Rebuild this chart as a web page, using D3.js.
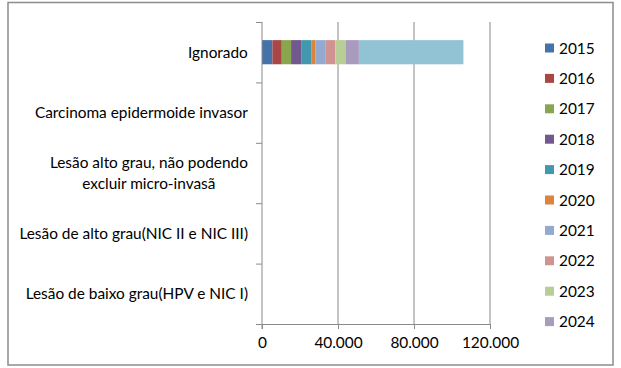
<!DOCTYPE html>
<html><head><meta charset="utf-8">
<script src="https://cdn.jsdelivr.net/npm/d3@7"></script>
<style>body{margin:0;background:#fff}svg{display:block}text{font-family:Lato,"Open Sans",sans-serif;fill:#000}</style>
</head><body><svg id="c" width="621" height="368"></svg>
<script>
const categories = ["Ignorado","Carcinoma epidermoide invasor","Lesão alto grau, não podendo excluir micro-invasã","Lesão de alto grau(NIC II e NIC III)","Lesão de baixo grau(HPV e NIC I)"];
const categoryLines = [["Ignorado"],["Carcinoma epidermoide invasor"],["Lesão alto grau, não podendo","excluir micro-invasã"],["Lesão de alto grau(NIC II e NIC III)"],["Lesão de baixo grau(HPV e NIC I)"]];
const seriesNames = ["2015","2016","2017","2018","2019","2020","2021","2022","2023","2024","Total"];
const seriesColors = ["#4672AA","#AA4643","#89A54E","#71588F","#4198AF","#DB843D","#93A9CF","#D19392","#B9CD96","#A99BBD","#92C3D4"];
const values = [
  [5500,0,0,0,0],
  [4900,0,0,0,0],
  [4900,0,0,0,0],
  [5300,0,0,0,0],
  [5300,0,0,0,0],
  [2100,0,0,0,0],
  [5300,0,0,0,0],
  [5300,0,0,0,0],
  [5600,0,0,0,0],
  [6800,0,0,0,0],
  [55000,0,0,0,0]
];
const xTicks = [0,40000,80000,120000];
const legendShown = 10;

const svg = d3.select("#c");
svg.append("rect").attr("x",8).attr("y",2.5).attr("width",605).attr("height",362.5)
  .attr("fill","#fff").attr("stroke","#8c8c8c").attr("stroke-width",1.5);

const L=262, R=490, T=22, B=324;
const FS=15.4;
const x = d3.scaleLinear().domain([0,120000]).range([L,R]);
const y = d3.scaleBand().domain(categories).range([T,B]).paddingInner(0.6).paddingOuter(0.3);
const yb = d3.scaleBand().domain(categories).range([T,B]);

// gridlines
svg.append("g").selectAll("line").data(xTicks.slice(1)).join("line")
  .attr("x1",d=>x(d)).attr("x2",d=>x(d)).attr("y1",T).attr("y2",B)
  .attr("stroke","#8a8a8a").attr("stroke-width",1);

// stacked data
const rows = categories.map((c,i)=>{const o={cat:c}; seriesNames.forEach((s,j)=>o[s]=values[j][i]); return o;});
const stack = d3.stack().keys(seriesNames)(rows);
svg.append("g").selectAll("g").data(stack).join("g").attr("fill",(d,i)=>seriesColors[i])
  .selectAll("rect").data(d=>d).join("rect")
  .attr("x",d=>x(d[0])).attr("width",d=>x(d[1])-x(d[0]))
  .attr("y",d=>y(d.data.cat)).attr("height",y.bandwidth());

// x axis
const xa = svg.append("g").attr("transform",`translate(0,${B})`)
  .call(d3.axisBottom(x).tickValues(xTicks).tickSize(5).tickPadding(8)
    .tickFormat(d=>d3.format(",")(d).replace(/,/g,".")));
xa.select(".domain").attr("stroke","#8a8a8a").attr("d",`M${L-6},0.5H${R}`);
xa.selectAll(".tick line").attr("stroke","#8a8a8a");
xa.selectAll("text").attr("font-size",FS).style("font-family","Lato");

// y axis
const ya = svg.append("g");
ya.append("line").attr("x1",L).attr("x2",L).attr("y1",T).attr("y2",B+5).attr("stroke","#8a8a8a");
ya.selectAll("line.t").data(categories.map((c)=>yb(c)).concat([B])).join("line").attr("class","t")
  .attr("x1",L-6).attr("x2",L).attr("y1",d=>d+0.5).attr("y2",d=>d+0.5).attr("stroke","#8a8a8a");
categories.forEach((c,i)=>{
  const lines = categoryLines[i];
  const cy = yb(c)+yb.bandwidth()/2;
  const t = ya.append("text").attr("text-anchor","middle").attr("font-size",FS);
  lines.forEach((ln,k)=>{
    t.append("tspan").attr("x",0).attr("y",cy+5.5+(k-(lines.length-1)/2)*21).text(ln);
  });
  const bw = t.node().getBBox().width;
  t.selectAll("tspan").attr("x",248-bw/2);
});

// legend
const lg = svg.append("g");
seriesNames.slice(0,legendShown).forEach((s,i)=>{
  const cy = 48+i*30.4;
  lg.append("rect").attr("x",545).attr("y",cy-4.5).attr("width",9).attr("height",9).attr("fill",seriesColors[i]);
  lg.append("text").attr("x",559).attr("y",cy+5.5).attr("font-size",FS).text(s);
});
</script></body></html>
